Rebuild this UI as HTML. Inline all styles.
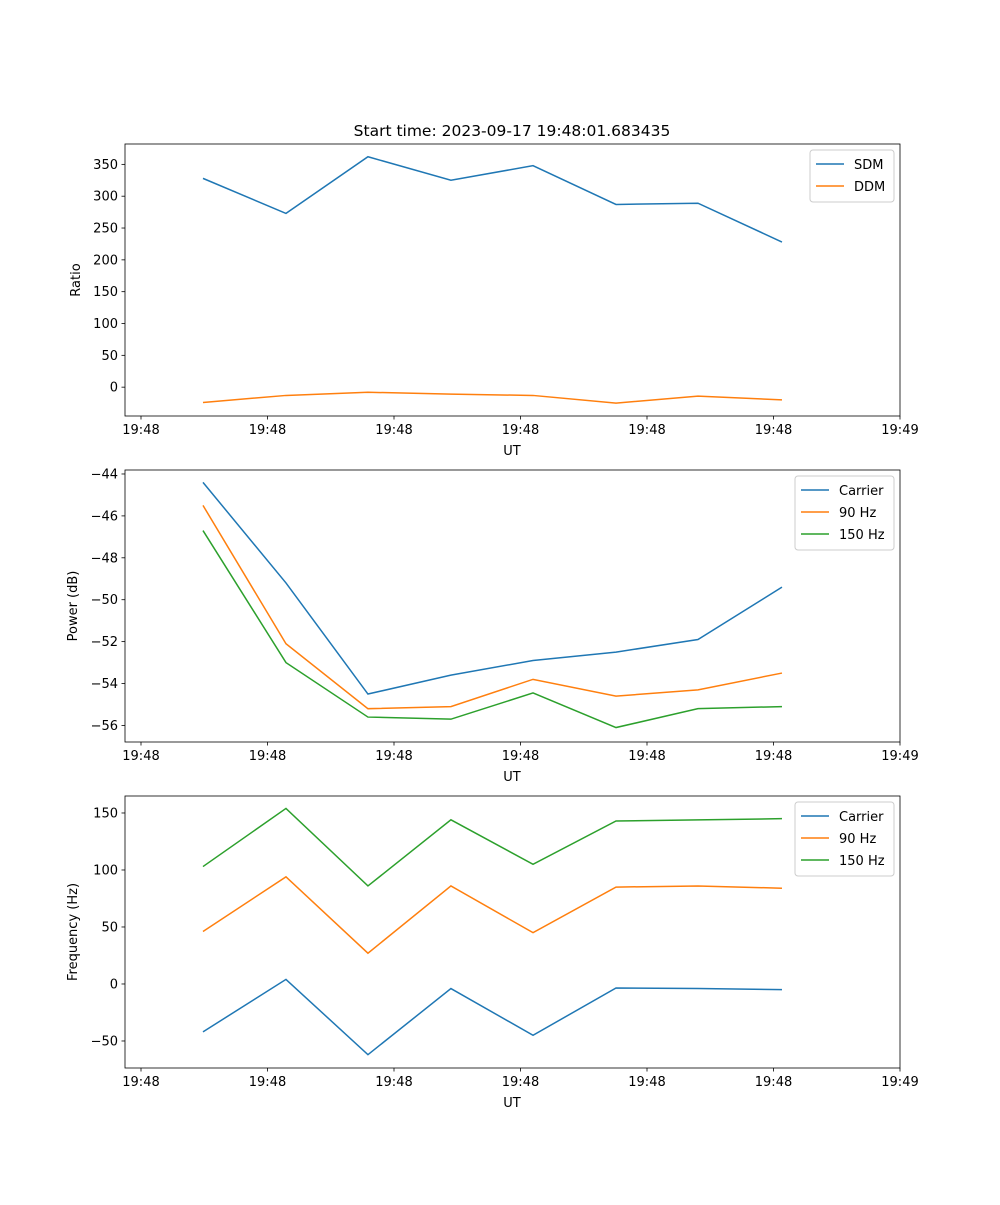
<!DOCTYPE html>
<html><head><meta charset="utf-8">
<style>
body{margin:0;background:#fff;}
svg text{font-family:"DejaVu Sans","Liberation Sans",sans-serif;font-size:13px;fill:#000;}
</style></head>
<body>
<svg id="fig" width="1000" height="1200" xmlns="http://www.w3.org/2000/svg">
<text x="512" y="136" text-anchor="middle" style="font-size:15.5px">Start time: 2023-09-17 19:48:01.683435</text>
</svg>
<script>
const times = [0.49, 1.146, 1.794, 2.45, 3.099, 3.755, 4.403, 5.067];
const xTickLabels = ["19:48","19:48","19:48","19:48","19:48","19:48","19:49"];
const sdm = [328, 273, 362, 325, 348, 287, 289, 228];
const ddm = [-24, -13, -8, -11, -13, -25, -14, -20];
const powCarrier = [-44.4, -49.2, -54.5, -53.6, -52.9, -52.5, -51.9, -49.4];
const pow90 = [-45.5, -52.1, -55.2, -55.1, -53.8, -54.6, -54.3, -53.5];
const pow150 = [-46.7, -53.0, -55.6, -55.7, -54.45, -56.1, -55.2, -55.1];
const freqCarrier = [-42, 4, -62, -4, -45, -3.5, -4, -5];
const freq90 = [46, 94, 27, 86, 45, 85, 86, 84];
const freq150 = [103, 154, 86, 144, 105, 143, 144, 145];
const ticks1 = [0,50,100,150,200,250,300,350];
const ticks2 = [-56,-54,-52,-50,-48,-46,-44];
const ticks3 = [-50,0,50,100,150];

const NS="http://www.w3.org/2000/svg";
const svg=document.getElementById('fig');
const L=125,R=900;
function xs(t){return 141+t*126.5;}
function el(tag,attrs,parent){const e=document.createElementNS(NS,tag);for(const k in attrs)e.setAttribute(k,attrs[k]);(parent||svg).appendChild(e);return e;}

function panel(name,top,bottom,ymin,ymax,yticks,ylabel,series,legend){
  const g=el('g',{});
  
  
  const ys=v=>bottom-(v-ymin)/(ymax-ymin)*(bottom-top);
  series.forEach(s=>{
    const p=el('polyline',{points:s.vals.map((v,i)=>xs(times[i])+','+ys(v)).join(' '),fill:'none',stroke:s.color,'stroke-width':1.5},g);
    
    
  });
  el('rect',{x:L,y:top,width:R-L,height:bottom-top,fill:'none',stroke:'#000','stroke-width':0.8},g);
  xTickLabels.forEach((lab,i)=>{
    const x=xs(i);
    el('line',{x1:x,x2:x,y1:bottom,y2:bottom+3.5,stroke:'#000','stroke-width':0.8},g);
    const t=el('text',{x:x,y:bottom+18,'text-anchor':'middle'},g);t.textContent=lab;
    
    
  });
  const xl=el('text',{x:512,y:bottom+39,'text-anchor':'middle'},g);xl.textContent='UT';
  
  
  yticks.forEach(v=>{
    const y=ys(v);
    el('line',{x1:L-3.5,x2:L,y1:y,y2:y,stroke:'#000','stroke-width':0.8},g);
    const t=el('text',{x:L-7,y:y+4.5,'text-anchor':'end'},g);t.textContent=(v<0?'\u2212'+(-v):v);
    
    
  });
  const my=(top+bottom)/2;
  const yl=el('text',{x:0,y:0,'text-anchor':'middle',transform:`translate(${ylabel.x},${my}) rotate(-90)`},g);yl.textContent=ylabel.text;
  
  
  const lg=el('g',{},g);
  
  
  el('rect',{x:legend.x,y:top+6,width:R-6-legend.x,height:8+series.length*22,rx:3,fill:'#fff',stroke:'#ccc','stroke-width':1},lg);
  series.forEach((s,i)=>{
    const y=top+20+i*22;
    el('line',{x1:legend.x+6,x2:legend.x+34,y1:y,y2:y,stroke:s.color,'stroke-width':1.5},lg);
    const t=el('text',{x:legend.x+44,y:y+5},lg);t.textContent=s.label;
    
    
  });
}
const B='#1f77b4',O='#ff7f0e',G='#2ca02c';
panel('ratio-panel',144,416,-45.3,382,ticks1,{x:80,text:'Ratio'},
 [{key:'sdm',vals:sdm,color:B,label:'SDM'},{key:'ddm',vals:ddm,color:O,label:'DDM'}],{x:810});
panel('power-panel',470,742,-56.79,-43.81,ticks2,{x:77,text:'Power (dB)'},
 [{key:'carrier',vals:powCarrier,color:B,label:'Carrier'},{key:'90hz',vals:pow90,color:O,label:'90 Hz'},{key:'150hz',vals:pow150,color:G,label:'150 Hz'}],{x:795});
panel('frequency-panel',796,1068,-73.7,164.9,ticks3,{x:77,text:'Frequency (Hz)'},
 [{key:'carrier',vals:freqCarrier,color:B,label:'Carrier'},{key:'90hz',vals:freq90,color:O,label:'90 Hz'},{key:'150hz',vals:freq150,color:G,label:'150 Hz'}],{x:795});
</script>
</body></html>
